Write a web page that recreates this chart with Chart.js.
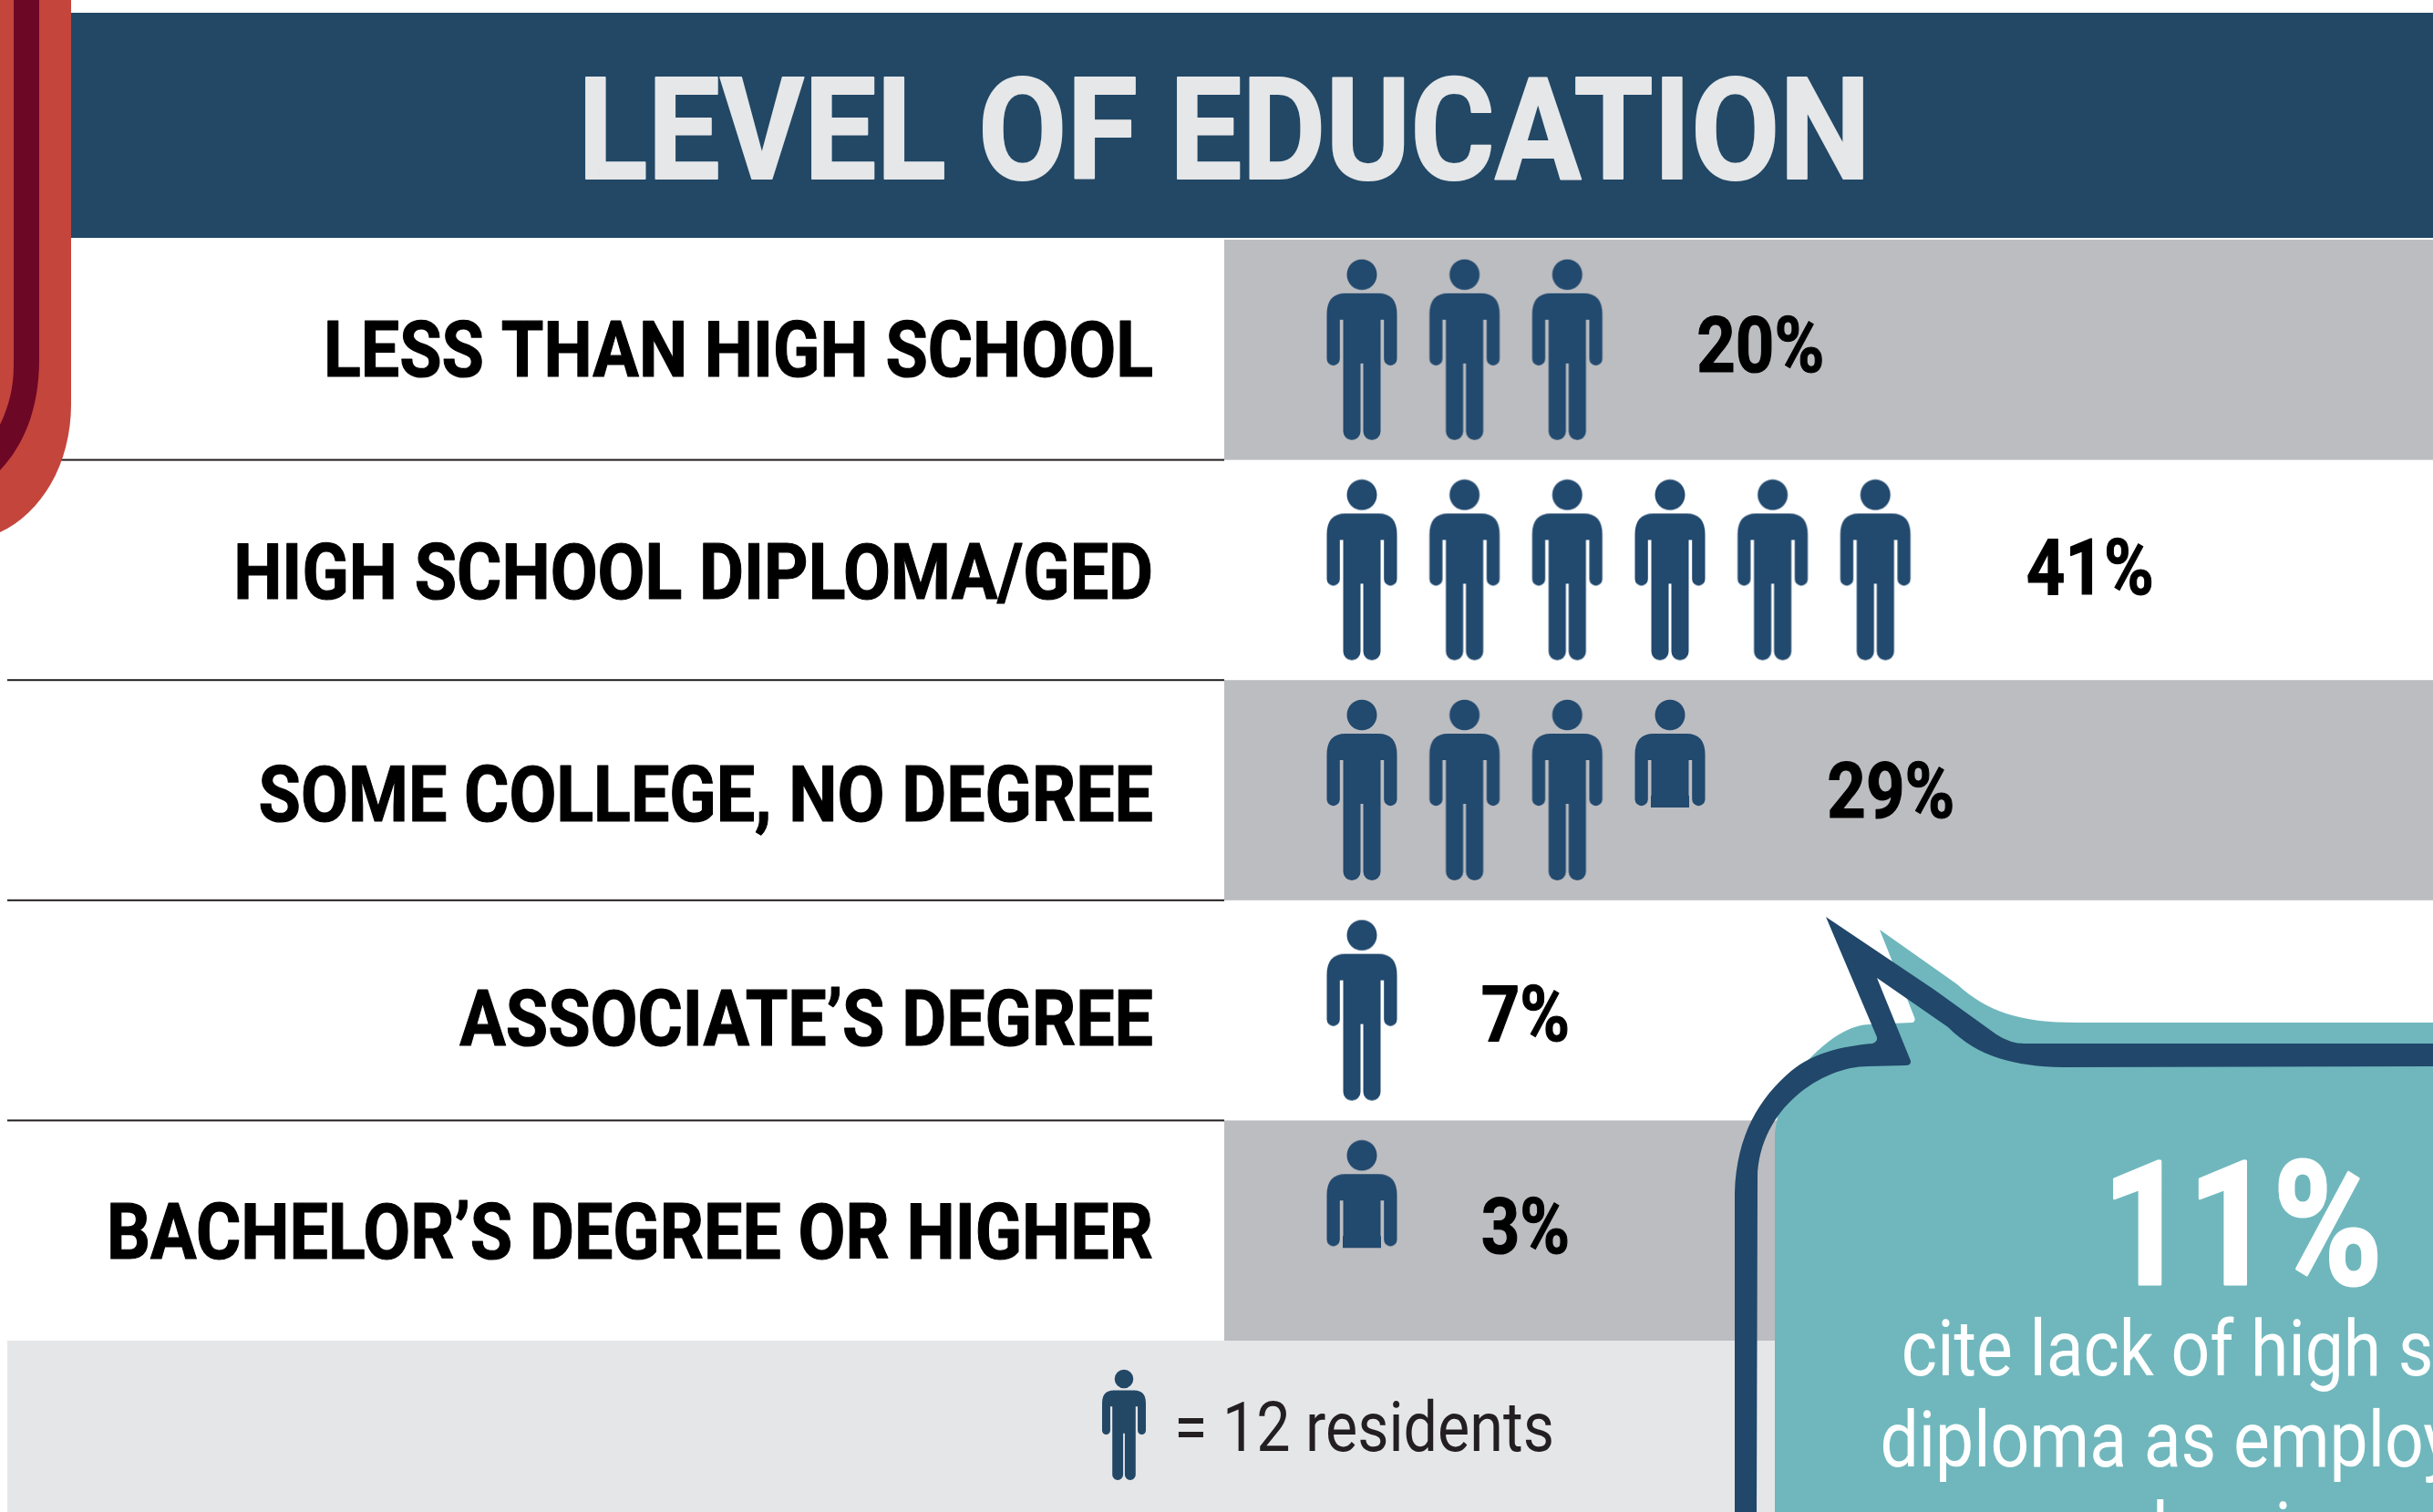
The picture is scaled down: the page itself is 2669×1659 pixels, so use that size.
<!DOCTYPE html>
<html lang="en">
<head>
    <meta charset="UTF-8">
    <title>Level of Education</title>
    <script src="https://cdn.jsdelivr.net/npm/chart.js"></script>
    <style>
        html, body { margin: 0; padding: 0; background: #fff; overflow: hidden; }
        canvas { display: block; }
    </style>
</head>
<body>

    <canvas id="educationChart" width="2669" height="1659"></canvas>

    <script>
        const categories = [
            'LESS THAN HIGH SCHOOL',
            'HIGH SCHOOL DIPLOMA/GED',
            'SOME COLLEGE, NO DEGREE',
            'ASSOCIATE’S DEGREE',
            'BACHELOR’S DEGREE OR HIGHER'
        ];
        const percents = [20, 41, 29, 7, 3];
        // one icon = 12 residents
        const icons = [3, 6, 3.5, 1, 0.5];

        const titleText = 'LEVEL OF EDUCATION';
        const legendText = '= 12 residents';
        const calloutValue = '11%';
        const calloutLines = ['cite lack of high school', 'diploma as employment', 'barrier'];

        // where the percent labels start, in icon units on the x axis
        const labelAt = [3.76, 6.97, 5.03, 1.66, 1.66];
        const labelDy = [24, 27, 30, 33, 25];
        const catDy = [29, 32, 34, 38, 31];
        const calloutDx = [0, -6, 0];

        const NAVY = '#224866';
        const ICON = '#22496e';
        const GREY = '#bcbdc1';
        const TEAL = '#6fb7bd';
        const CONDENSED = 'Roboto, sans-serif';

        function personPath() {
            const p = new Path2D();
            p.ellipse(0, 16.5, 16.5, 16.8, 0, 0, Math.PI * 2);
            p.moveTo(-38.5, 60);
            p.quadraticCurveTo(-38.5, 37, -18, 37);
            p.lineTo(18, 37);
            p.quadraticCurveTo(38.5, 37, 38.5, 60);
            p.lineTo(38.5, 109);
            p.arc(31.35, 109, 7.15, 0, Math.PI);
            p.lineTo(24.2, 66);
            p.lineTo(20.5, 66);
            p.lineTo(20.5, 188.5);
            p.arc(11, 188.5, 9.5, 0, Math.PI);
            p.lineTo(1.5, 114);
            p.lineTo(-1.5, 114);
            p.lineTo(-1.5, 188.5);
            p.arc(-11, 188.5, 9.5, 0, Math.PI);
            p.lineTo(-20.5, 66);
            p.lineTo(-24.2, 66);
            p.lineTo(-24.2, 109);
            p.arc(-31.35, 109, 7.15, 0, Math.PI);
            p.closePath();
            return p;
        }
        const person = personPath();

        function personCanvas(clipHeight) {
            const c = document.createElement('canvas');
            c.width = 80;
            c.height = 200;
            const g = c.getContext('2d');
            g.translate(40, 1);
            g.beginPath();
            g.rect(-40, -1, 80, clipHeight);
            g.clip();
            g.fillStyle = ICON;
            g.fill(person);
            // the cut figure has a flat hem, no gap between the legs
            if (clipHeight < 200) g.fillRect(-21, 105, 42, 20);
            return c;
        }
        const fullPerson = personCanvas(200);
        const partPerson = personCanvas(119);

        // one point per icon, the fraction gets the cut off figure
        const iconPoints = [];
        categories.forEach((cat, i) => {
            for (let k = 0; k < icons[i]; k++) {
                iconPoints.push({ x: k + 0.5, y: cat, part: icons[i] - k < 1 });
            }
        });

        // text squeezed sideways, Roboto Condensed is not installed
        function squeezed(ctx, text, x, y, font, sx, color, align, heavy) {
            ctx.save();
            ctx.font = font;
            ctx.fillStyle = color;
            ctx.textAlign = align || 'left';
            ctx.textBaseline = 'alphabetic';
            ctx.translate(x, y);
            ctx.scale(sx, 1);
            ctx.fillText(text, 0, 0);
            if (heavy) {
                ctx.strokeStyle = color;
                ctx.lineWidth = heavy;
                ctx.lineJoin = 'round';
                ctx.strokeText(text, 0, 0);
            }
            ctx.restore();
        }

        function fitScale(ctx, text, font, width) {
            ctx.save();
            ctx.font = font;
            const w = ctx.measureText(text).width;
            ctx.restore();
            return width / w;
        }

        function drawRibbon(ctx) {
            ctx.fillStyle = '#c4453c';
            ctx.beginPath();
            ctx.moveTo(0, 0);
            ctx.lineTo(78, 0);
            ctx.lineTo(78, 443);
            ctx.bezierCurveTo(78, 510, 45, 563, 0, 584);
            ctx.closePath();
            ctx.fill();
            ctx.fillStyle = '#6d0726';
            ctx.beginPath();
            ctx.moveTo(15, 0);
            ctx.lineTo(43, 0);
            ctx.lineTo(43, 395);
            ctx.bezierCurveTo(43, 450, 25, 490, 0, 516);
            ctx.lineTo(0, 466);
            ctx.bezierCurveTo(10, 445, 15, 425, 15, 400);
            ctx.closePath();
            ctx.fill();
        }

        function drawCallout(ctx) {
            ctx.fillStyle = TEAL;
            ctx.beginPath();
            ctx.moveTo(2669, 1659);
            ctx.lineTo(1947, 1659);
            ctx.lineTo(1947, 1245);
            ctx.bezierCurveTo(1950, 1210, 1965, 1185, 1981, 1166);
            ctx.bezierCurveTo(2005, 1140, 2030, 1124, 2051, 1124);
            ctx.lineTo(2098, 1122);
            ctx.quadraticCurveTo(2102, 1120, 2100, 1116);
            ctx.lineTo(2062, 1020);
            ctx.lineTo(2147, 1080);
            ctx.bezierCurveTo(2180, 1110, 2215, 1122, 2278, 1122);
            ctx.lineTo(2669, 1122);
            ctx.closePath();
            ctx.fill();

            ctx.fillStyle = '#21476a';
            ctx.beginPath();
            ctx.moveTo(1903, 1659);
            ctx.lineTo(1903, 1309);
            ctx.bezierCurveTo(1905, 1245, 1930, 1205, 1965, 1175);
            ctx.bezierCurveTo(1990, 1155, 2020, 1148, 2054, 1145);
            ctx.quadraticCurveTo(2060, 1143, 2059, 1138);
            ctx.lineTo(2003, 1006);
            ctx.lineTo(2122, 1086);
            ctx.lineTo(2190, 1135);
            ctx.quadraticCurveTo(2205, 1145, 2221, 1145);
            ctx.lineTo(2669, 1145);
            ctx.lineTo(2669, 1170);
            ctx.lineTo(2263, 1171);
            ctx.bezierCurveTo(2210, 1170, 2170, 1160, 2137, 1127);
            ctx.lineTo(2059, 1073);
            ctx.lineTo(2096, 1164);
            ctx.quadraticCurveTo(2097, 1169, 2090, 1169);
            ctx.lineTo(2049, 1170);
            ctx.bezierCurveTo(2000, 1170, 1930, 1215, 1928, 1292);
            ctx.lineTo(1927, 1659);
            ctx.closePath();
            ctx.fill();

            const bigFont = '700 190px ' + CONDENSED;
            squeezed(ctx, calloutValue, 2460, 1409, bigFont, fitScale(ctx, calloutValue, bigFont, 308), '#fff', 'center', 3);
            const font = '400 86px ' + CONDENSED;
            const sx = fitScale(ctx, 'cite lack of high ', font, 545);
            calloutLines.forEach((line, i) => {
                squeezed(ctx, line, 2470 + calloutDx[i], 1509 + i * 100, font, sx, '#fff', 'center');
            });
        }

        const decorations = {
            id: 'decorations',
            beforeDatasetsDraw(chart) {
                const ctx = chart.ctx;
                const area = chart.chartArea;
                const y = chart.scales.y;
                const rowH = (area.bottom - area.top) / categories.length;

                // title band
                ctx.fillStyle = NAVY;
                ctx.fillRect(78, 14, 2591, 247);
                const titleFont = '700 156px ' + CONDENSED;
                squeezed(ctx, titleText, 1343, 196, titleFont, fitScale(ctx, titleText, titleFont, 1418), '#e6e7e8', 'center', 2);

                // legend band
                ctx.fillStyle = '#e5e6e8';
                ctx.fillRect(8, area.bottom, 2661, chart.height - area.bottom);

                // rows
                const catFont = '700 86px ' + CONDENSED;
                const catSx = fitScale(ctx, categories[0], catFont, 910);
                categories.forEach((cat, i) => {
                    const mid = y.getPixelForValue(i);
                    if (i % 2 === 0) {
                        ctx.fillStyle = GREY;
                        ctx.fillRect(area.left, mid - rowH / 2, area.right - area.left, rowH);
                    }
                    if (i < categories.length - 1) {
                        ctx.fillStyle = '#231f20';
                        ctx.fillRect(8, mid + rowH / 2 - 1, area.left - 8, 2);
                    }
                    squeezed(ctx, cat, 1265, mid + catDy[i], catFont, catSx, '#000', 'right', 1.2);
                });
            },
            afterDatasetsDraw(chart) {
                const ctx = chart.ctx;
                const x = chart.scales.x;
                const y = chart.scales.y;

                const pctFont = '700 86px ' + CONDENSED;
                const pctSx = fitScale(ctx, '20%', pctFont, 140);
                percents.forEach((v, i) => {
                    squeezed(ctx, v + '%', x.getPixelForValue(labelAt[i]), y.getPixelForValue(i) + labelDy[i], pctFont, pctSx, '#000', 'left', 1.2);
                });

                // legend
                ctx.save();
                ctx.translate(1233, 1503);
                ctx.scale(0.623, 0.611);
                ctx.fillStyle = NAVY;
                ctx.fill(person);
                ctx.restore();
                const legendFont = '400 76px ' + CONDENSED;
                squeezed(ctx, legendText, 1288, 1592, legendFont, fitScale(ctx, legendText, legendFont, 417), '#231f20');

                drawRibbon(ctx);
                drawCallout(ctx);
            }
        };

        new Chart(document.getElementById('educationChart').getContext('2d'), {
            type: 'scatter',
            data: {
                datasets: [{
                    label: 'Residents',
                    data: iconPoints,
                    pointRadius: 10,
                    pointStyle: (c) => (c.raw && c.raw.part ? partPerson : fullPerson)
                }]
            },
            options: {
                responsive: false,
                animation: false,
                layout: { autoPadding: false, padding: { left: 1343, top: 263, right: 0, bottom: 188 } },
                plugins: { legend: { display: false }, tooltip: { enabled: false } },
                scales: {
                    x: { type: 'linear', display: false, min: -0.84, max: 10.93 },
                    y: { type: 'category', labels: categories, offset: true, display: false }
                }
            },
            plugins: [decorations]
        });
    </script>
</body>
</html>
